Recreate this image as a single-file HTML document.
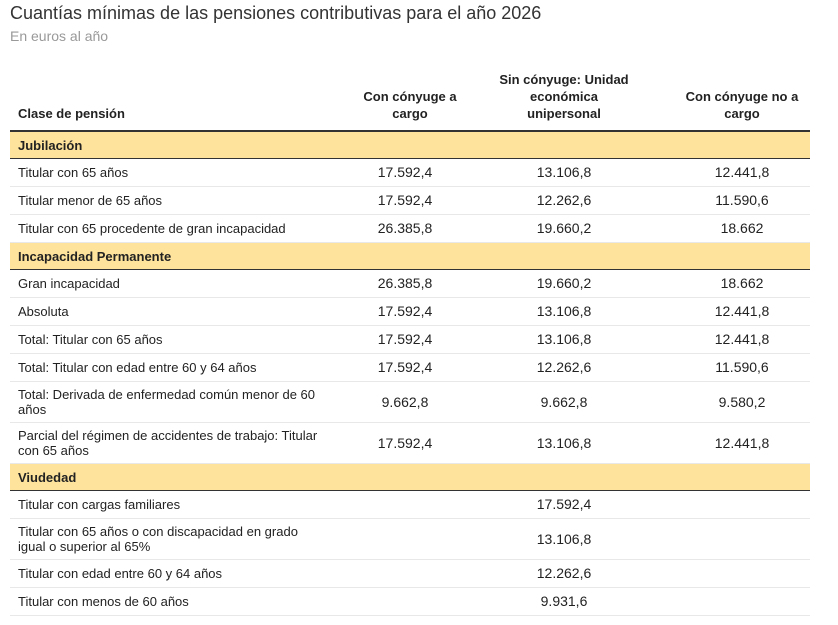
<!DOCTYPE html>
<html><head><meta charset="utf-8"><style>
body{margin:0;background:#fff;font-family:"Liberation Sans",Arial,sans-serif;color:#222;width:838px;height:625px;overflow:hidden;position:relative}
.t{position:absolute;left:10px;top:3px;font-size:18px;color:#333}
.s{position:absolute;left:10px;top:28px;font-size:14px;color:#999}
table{position:absolute;left:10px;top:63px;border-collapse:collapse;width:800px;font-size:13px;table-layout:fixed}
th{font-weight:bold;vertical-align:bottom;padding:0 8px 8px;line-height:17px;text-align:center;border-bottom:2px solid #333;height:59px}
th.l{text-align:left}
td{padding:0 8px;text-align:center;border-bottom:1px solid #e8e8e8;height:27px;line-height:15px}
td.v{font-size:14px}
td.l{text-align:left}
tr.sec td{background:#fde39b;font-weight:bold;border-top:1px solid #333;border-bottom:1px solid #333;height:26px}
tr.tall td{height:40px}
td.c4,th.c4{padding-left:34px}
td.c2{padding-right:18px}
</style></head><body>
<div class="t">Cuantías mínimas de las pensiones contributivas para el año 2026</div>
<div class="s">En euros al año</div>
<table>
<colgroup><col style="width:330px"><col style="width:140px"><col style="width:168px"><col style="width:162px"></colgroup>
<tr><th class="l">Clase de pensión</th><th>Con cónyuge a cargo</th><th>Sin cónyuge: Unidad<br>económica<br>unipersonal</th><th class="c4">Con cónyuge no a cargo</th></tr>
<tr class="sec"><td class="l" colspan="4">Jubilación</td></tr>
<tr><td class="l">Titular con 65 años</td><td class="v c2">17.592,4</td><td class="v">13.106,8</td><td class="v c4">12.441,8</td></tr>
<tr><td class="l">Titular menor de 65 años</td><td class="v c2">17.592,4</td><td class="v">12.262,6</td><td class="v c4">11.590,6</td></tr>
<tr><td class="l">Titular con 65 procedente de gran incapacidad</td><td class="v c2">26.385,8</td><td class="v">19.660,2</td><td class="v c4">18.662</td></tr>
<tr class="sec"><td class="l" colspan="4">Incapacidad Permanente</td></tr>
<tr><td class="l">Gran incapacidad</td><td class="v c2">26.385,8</td><td class="v">19.660,2</td><td class="v c4">18.662</td></tr>
<tr><td class="l">Absoluta</td><td class="v c2">17.592,4</td><td class="v">13.106,8</td><td class="v c4">12.441,8</td></tr>
<tr><td class="l">Total: Titular con 65 años</td><td class="v c2">17.592,4</td><td class="v">13.106,8</td><td class="v c4">12.441,8</td></tr>
<tr><td class="l">Total: Titular con edad entre 60 y 64 años</td><td class="v c2">17.592,4</td><td class="v">12.262,6</td><td class="v c4">11.590,6</td></tr>
<tr class="tall"><td class="l">Total: Derivada de enfermedad común menor de 60 años</td><td class="v c2">9.662,8</td><td class="v">9.662,8</td><td class="v c4">9.580,2</td></tr>
<tr class="tall"><td class="l">Parcial del régimen de accidentes de trabajo: Titular con 65 años</td><td class="v c2">17.592,4</td><td class="v">13.106,8</td><td class="v c4">12.441,8</td></tr>
<tr class="sec"><td class="l" colspan="4">Viudedad</td></tr>
<tr><td class="l">Titular con cargas familiares</td><td></td><td class="v">17.592,4</td><td class="c4"></td></tr>
<tr class="tall"><td class="l">Titular con 65 años o con discapacidad en grado<br>igual o superior al 65%</td><td></td><td class="v">13.106,8</td><td class="c4"></td></tr>
<tr><td class="l">Titular con edad entre 60 y 64 años</td><td></td><td class="v">12.262,6</td><td class="c4"></td></tr>
<tr><td class="l">Titular con menos de 60 años</td><td></td><td class="v">9.931,6</td><td class="c4"></td></tr>
</table>
</body></html>
